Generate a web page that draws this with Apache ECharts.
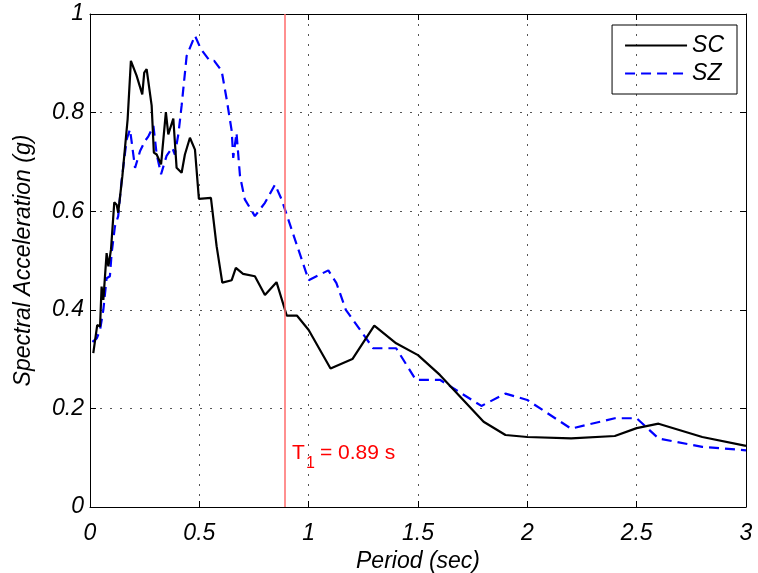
<!DOCTYPE html>
<html>
<head>
<meta charset="utf-8">
<script src="https://cdn.jsdelivr.net/npm/echarts@6/dist/echarts.min.js"></script>
<style>
  html, body { margin: 0; padding: 0; background: #fff; }
  #chart { width: 758px; height: 573px; }
</style>
</head>
<body>
<div id="chart"></div>
<script>
// SC record (solid black)
var scPeriod = [0.015, 0.033, 0.046, 0.053, 0.061, 0.076, 0.084, 0.096, 0.111, 0.122, 0.129, 0.148, 0.172, 0.187,
  0.213, 0.239, 0.248, 0.259, 0.282, 0.292, 0.305, 0.325, 0.347, 0.358, 0.381, 0.396, 0.419, 0.434, 0.457, 0.48,
  0.498, 0.553, 0.579, 0.605, 0.648, 0.667, 0.70, 0.754, 0.80, 0.853, 0.90, 0.947, 1.0, 1.10, 1.20, 1.30, 1.40,
  1.50, 1.60, 1.80, 1.90, 2.0, 2.2, 2.4, 2.5, 2.6, 2.8, 3.0];
var scAcc = [0.312, 0.369, 0.366, 0.447, 0.42, 0.515, 0.488, 0.522, 0.618, 0.613, 0.597, 0.671, 0.786, 0.905,
  0.875, 0.837, 0.881, 0.888, 0.814, 0.719, 0.715, 0.695, 0.801, 0.756, 0.788, 0.688, 0.678, 0.715, 0.749, 0.725,
  0.625, 0.627, 0.529, 0.455, 0.46, 0.485, 0.473, 0.468, 0.43, 0.456, 0.388, 0.388, 0.359, 0.281, 0.300, 0.368, 0.332,
  0.308, 0.268, 0.173, 0.146, 0.142, 0.139, 0.144, 0.16, 0.169, 0.142, 0.124];

// SZ record (dashed blue)
var szPeriod = [0.011, 0.031, 0.046, 0.061, 0.076, 0.091, 0.099, 0.114, 0.129, 0.145, 0.168, 0.183, 0.206, 0.229,
  0.251, 0.267, 0.29, 0.305, 0.325, 0.35, 0.376, 0.388, 0.404, 0.419, 0.442, 0.48, 0.507, 0.548, 0.568, 0.602,
  0.625, 0.648, 0.655, 0.67, 0.686, 0.708, 0.754, 0.80, 0.846, 0.876, 1.0, 1.09, 1.127, 1.17, 1.295, 1.40, 1.49,
  1.60, 1.79, 1.90, 2.0, 2.2, 2.4, 2.5, 2.6, 2.8, 3.0];
var szAcc = [0.335, 0.342, 0.359, 0.40, 0.464, 0.468, 0.515, 0.569, 0.59, 0.664, 0.746, 0.766, 0.688, 0.722,
  0.742, 0.752, 0.773, 0.715, 0.675, 0.712, 0.729, 0.715, 0.756, 0.814, 0.915, 0.956, 0.929, 0.905, 0.905, 0.885,
  0.827, 0.763, 0.708, 0.759, 0.671, 0.624, 0.59, 0.617, 0.654, 0.624, 0.46, 0.48, 0.454, 0.40, 0.322, 0.322, 0.258,
  0.258, 0.205, 0.230, 0.217, 0.159, 0.18, 0.18, 0.139, 0.122, 0.115];

var periodT1 = 0.89;

function pairs(xs, ys) {
  var out = [];
  for (var i = 0; i < xs.length; i++) {
    out.push([xs[i], ys[i]]);
  }
  return out;
}

var font = '"Liberation Sans", Arial, sans-serif';
var dots = { color: '#555', width: 1, type: [2, 8] };
var italic = { fontFamily: font, fontStyle: 'italic', fontSize: 23, color: '#000' };

var myChart = echarts.init(document.getElementById('chart'), null, { renderer: 'canvas' });

var option = {
  backgroundColor: '#fff',
  animation: false,
  textStyle: { fontFamily: font },
  grid: { left: 90, top: 14, right: 12, bottom: 66, containLabel: false, outerBoundsMode: 'none' },
  legend: {
    right: 21,
    top: 25,
    orient: 'vertical',
    borderColor: '#000',
    borderWidth: 1,
    padding: [9, 13, 9, 12],
    itemWidth: 62,
    itemHeight: 14,
    itemGap: 5,
    itemStyle: { opacity: 0 },
    textStyle: italic,
    data: ['SC', 'SZ']
  },
  xAxis: [{
    type: 'value',
    min: 0,
    max: 3,
    interval: 0.5,
    name: 'Period (sec)',
    nameLocation: 'middle',
    nameGap: 37,
    nameTextStyle: italic,
    axisLine: { show: true, onZero: false, lineStyle: { color: '#000', width: 1 } },
    axisTick: { show: true, inside: true, length: 6, lineStyle: { color: '#000' } },
    axisLabel: { fontStyle: 'italic', fontSize: 23, color: '#000', margin: 15,
      formatter: function (v) { return String(v); } },
    splitLine: { show: true, lineStyle: dots }
  }, {
    type: 'value',
    position: 'top',
    min: 0,
    max: 3,
    interval: 0.5,
    axisLine: { show: true, onZero: false, lineStyle: { color: '#000', width: 1 } },
    axisTick: { show: true, inside: true, length: 6, lineStyle: { color: '#000' } },
    axisLabel: { show: false },
    splitLine: { show: false }
  }],
  yAxis: [{
    type: 'value',
    min: 0,
    max: 1,
    interval: 0.2,
    name: 'Spectral Acceleration (g)',
    nameLocation: 'middle',
    nameGap: 55,
    nameTextStyle: italic,
    axisLine: { show: true, onZero: false, lineStyle: { color: '#000', width: 1 } },
    axisTick: { show: true, inside: true, length: 6, lineStyle: { color: '#000' } },
    axisLabel: { fontStyle: 'italic', fontSize: 23, color: '#000', margin: 6,
      formatter: function (v) { return String(v); } },
    splitLine: { show: true, lineStyle: dots }
  }, {
    type: 'value',
    position: 'right',
    min: 0,
    max: 1,
    interval: 0.2,
    axisLine: { show: true, onZero: false, lineStyle: { color: '#000', width: 1 } },
    axisTick: { show: true, inside: true, length: 6, lineStyle: { color: '#000' } },
    axisLabel: { show: false },
    splitLine: { show: false }
  }],
  series: [{
    name: 'SC',
    type: 'line',
    data: pairs(scPeriod, scAcc),
    symbol: 'none',
    itemStyle: { color: '#000' },
    lineStyle: { color: '#000', width: 2.2 },
    markLine: {
      silent: true,
      symbol: 'none',
      label: { show: false },
      lineStyle: { color: '#ff6b6b', width: 1.5, type: 'solid' },
      data: [{ xAxis: periodT1 }]
    },
    z: 3
  }, {
    name: 'SZ',
    type: 'line',
    data: pairs(szPeriod, szAcc),
    symbol: 'none',
    itemStyle: { color: '#0000ff' },
    lineStyle: { color: '#0000ff', width: 2.2, type: [10, 6] },
    z: 2
  }],
  graphic: [{
    type: 'text',
    left: 292,
    top: 443,
    style: { text: 'T', fill: '#ff0000', font: '21px ' + font }
  }, {
    type: 'text',
    left: 306,
    top: 456,
    style: { text: '1', fill: '#ff0000', font: '16px ' + font }
  }, {
    type: 'text',
    left: 320,
    top: 443,
    style: { text: '= 0.89 s', fill: '#ff0000', font: '21px ' + font }
  }]
};

myChart.setOption(option);
</script>
</body>
</html>
